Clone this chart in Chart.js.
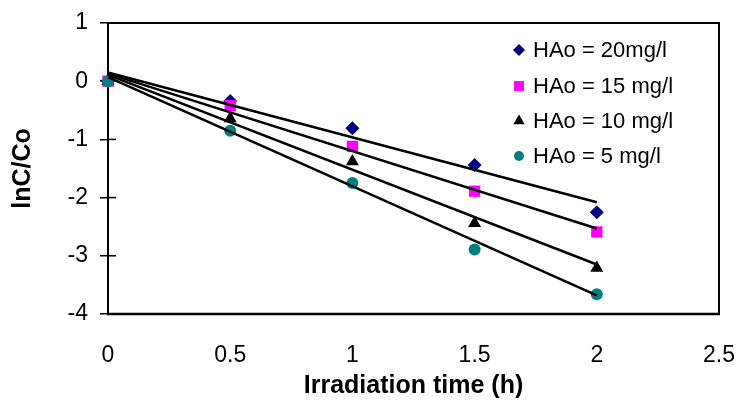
<!DOCTYPE html>
<html>
<head>
<meta charset="utf-8">
<script src="https://cdn.jsdelivr.net/npm/chart.js@4.4.1/dist/chart.umd.min.js"></script>
<style>
  html, body { margin: 0; padding: 0; background: #fff; }
  #chart { display: block; }
</style>
</head>
<body>
<canvas id="chart" width="742" height="408"></canvas>
<script>
// ================== DATA ==================
const times = [0, 0.5, 1, 1.5, 2];
const ha20 = [0, -0.34, -0.81, -1.44, -2.25];
const ha15 = [0, -0.42, -1.12, -1.89, -2.59];
const ha10 = [0, -0.64, -1.38, -2.44, -3.21];
const ha5  = [0, -0.85, -1.75, -2.89, -3.66];

// trend lines: value at t=0 and at t=2
const trendX     = [0, 2];
const trendStart = [0.15, 0.13, 0.11, 0.07];
const trendEnd   = [-2.08, -2.53, -3.15, -3.68];

const seriesLabels = ["HAo = 20mg/l", "HAo = 15 mg/l", "HAo = 10 mg/l", "HAo = 5 mg/l"];
const xTicks = [0, 0.5, 1, 1.5, 2, 2.5];
const yTicks = [1, 0, -1, -2, -3, -4];

// ================== STYLES ==================
const seriesValues = [ha20, ha15, ha10, ha5];
const styles = [
    { color: "#000080", pointStyle: "rectRot",  radius: 7 },
    { color: "#ff00ff", pointStyle: "rect",     radius: 8 },
    { color: "#000000", pointStyle: "triangle", radius: 7.5 },
    { color: "#008080", pointStyle: "circle",   radius: 6 }
];
const FONT = "'Liberation Sans', Arial, sans-serif";

let datasets = [];
seriesValues.forEach((vals, i) => {
    datasets.push({
        type: 'scatter',
        label: seriesLabels[i],
        data: times.map((t, k) => ({ x: t, y: vals[k] })),
        pointStyle: styles[i].pointStyle,
        pointRadius: styles[i].radius,
        pointBackgroundColor: styles[i].color,
        pointBorderColor: styles[i].color,
        pointBorderWidth: 0,
        showLine: false,
        clip: false,
        order: 4 - i + 1
    });
});
trendStart.forEach((s, i) => {
    datasets.push({
        type: 'line',
        label: "trend " + i,
        data: [{ x: trendX[0], y: s }, { x: trendX[1], y: trendEnd[i] }],
        borderColor: "#000",
        borderWidth: 2.5,
        pointRadius: 0,
        fill: false,
        clip: false,
        order: 0
    });
});

// ================== PLUGINS ==================
const framePlugin = {
    id: 'frame',
    beforeDatasetsDraw(chart) {
        const { ctx, chartArea: a, scales } = chart;
        ctx.save();
        ctx.strokeStyle = "#000";
        ctx.lineWidth = 2;
        ctx.strokeRect(a.left, a.top, a.right - a.left, a.bottom - a.top);
        ctx.lineWidth = 2.5;
        ctx.beginPath();
        ctx.moveTo(a.left - 1, a.bottom);
        ctx.lineTo(a.right + 1, a.bottom);
        ctx.stroke();
        // inner half of the crossing y ticks
        ctx.lineWidth = 1.5;
        yTicks.forEach(v => {
            const y = scales.y.getPixelForValue(v);
            ctx.beginPath();
            ctx.moveTo(a.left, y);
            ctx.lineTo(a.left + 8, y);
            ctx.stroke();
        });
        ctx.restore();
    }
};

const legendPlugin = {
    id: 'boxLegend',
    afterDraw(chart) {
        const ctx = chart.ctx;
        const rows = [50, 86, 121, 156];
        ctx.save();
        ctx.font = "22px " + FONT;
        ctx.textBaseline = "middle";
        ctx.textAlign = "left";
        seriesLabels.forEach((lab, i) => {
            ctx.fillStyle = styles[i].color;
            ctx.strokeStyle = styles[i].color;
            ctx.lineWidth = 0;
            Chart.helpers.drawPoint(ctx, {
                pointStyle: styles[i].pointStyle,
                radius: styles[i].radius - 1,
                borderWidth: 0
            }, 519, rows[i]);
            ctx.fillStyle = "#000";
            ctx.fillText(lab, 533, rows[i] + 1);
        });
        ctx.restore();
    }
};

// ================== CHART ==================
new Chart(document.getElementById("chart"), {
    data: { datasets: datasets },
    options: {
        responsive: false,
        animation: false,
        layout: { padding: { left: 0, right: 23, top: 23, bottom: 0 } },
        plugins: {
            legend: { display: false },
            tooltip: { enabled: false }
        },
        scales: {
            x: {
                type: 'linear',
                min: 0,
                max: 2.5,
                afterFit: s => { s.height = 94; s.paddingLeft = 0; s.paddingRight = 0; },
                afterBuildTicks: s => { s.ticks = xTicks.map(v => ({ value: v })); },
                ticks: {
                    color: "#000",
                    font: { family: FONT, size: 23 },
                    padding: 20,
                    callback: v => String(v)
                },
                grid: { display: false },
                border: { display: false },
                title: {
                    display: true,
                    text: "Irradiation time (h)",
                    color: "#000",
                    font: { family: FONT, size: 25, weight: 'bold' },
                    padding: { top: 0, bottom: 7 }
                }
            },
            y: {
                type: 'linear',
                min: -4,
                max: 1,
                afterFit: s => { s.width = 108; s.paddingTop = 0; s.paddingBottom = 0; },
                afterBuildTicks: s => { s.ticks = yTicks.map(v => ({ value: v })); },
                ticks: {
                    color: "#000",
                    font: { family: FONT, size: 23 },
                    padding: 12,
                    callback: v => String(v)
                },
                grid: {
                    display: true,
                    drawOnChartArea: false,
                    drawTicks: true,
                    tickLength: 8,
                    color: "#000",
                    lineWidth: 1.5
                },
                border: { display: false },
                title: {
                    display: true,
                    text: "lnC/Co",
                    color: "#000",
                    font: { family: FONT, size: 25, weight: 'bold' },
                    padding: { top: 8, bottom: 0 }
                }
            }
        }
    },
    plugins: [framePlugin, legendPlugin]
});
</script>
</body>
</html>
